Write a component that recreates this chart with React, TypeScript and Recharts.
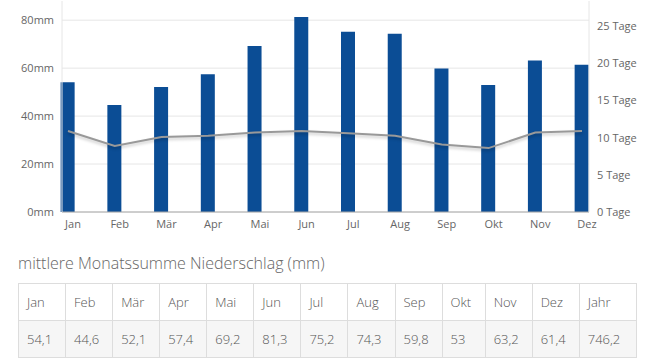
import React from 'react';
import { ComposedChart, Bar, Line, XAxis, YAxis, CartesianGrid } from 'recharts';

const months = ['Jan', 'Feb', 'Mär', 'Apr', 'Mai', 'Jun', 'Jul', 'Aug', 'Sep', 'Okt', 'Nov', 'Dez'];
const precipitation = [54.1, 44.6, 52.1, 57.4, 69.2, 81.3, 75.2, 74.3, 59.8, 53, 63.2, 61.4];
const rainDays = [10.9, 8.9, 10.1, 10.25, 10.7, 10.9, 10.6, 10.25, 9.1, 8.6, 10.7, 10.9];
const annualLabel = 'Jahr';
const annualValue = 746.2;
const mmTicks = [0, 20, 40, 60, 80];
const dayTicks = [0, 5, 10, 15, 20, 25];

const data = months.map((m, i) => ({ idx: i, month: m, mm: precipitation[i], days: rainDays[i] }));
const fmt = (v: number) => String(v).replace('.', ',');

const FONT = '"Open Sans", sans-serif';
const colWidths = [47, 47, 47, 47, 47, 47, 47, 47, 47, 43, 47, 47, 57];

const cell: React.CSSProperties = {
  border: '1px solid #ddd', padding: '0 0 0 8px', height: 36, fontSize: 13, color: '#555', textAlign: 'left', fontWeight: 300,
};

export default function App() {
  return (
    <div style={{ position: 'absolute', left: 0, top: 0, width: 647, height: 364, background: '#fff', fontFamily: FONT }}>
      <style>{'.rain-line path { filter: drop-shadow(0px 2px 1.5px rgba(0,0,0,0.22)); }'}</style>
      <ComposedChart width={647} height={240} data={data} margin={{ top: 1, right: 0, bottom: 0, left: 0 }}>
        <CartesianGrid yAxisId="left" vertical={false} stroke="#e6e6e6" syncWithTicks />
        <XAxis dataKey="idx" type="number" domain={[0, 11]} ticks={data.map(d => d.idx)} interval={0}
          tickFormatter={(i: number) => months[i]} padding={{ left: 6, right: 7 }} height={28}
          stroke="#a8a8a8" tickLine={false} tick={{ fill: '#666', fontSize: 11, fontFamily: FONT, dx: 5 }} />
        <YAxis yAxisId="left" orientation="left" width={62} domain={[0, 88]} ticks={mmTicks}
          tickFormatter={(v: number) => `${v}mm`} stroke="#e6e6e6" tickLine={false}
          tick={{ fill: '#666', fontSize: 11, fontFamily: FONT }} />
        <YAxis yAxisId="right" orientation="right" width={58} domain={[0, 28.4]} ticks={dayTicks}
          tickFormatter={(v: number) => `${v} Tage`} stroke="#e6e6e6" tickLine={false}
          tick={{ fill: '#666', fontSize: 11, fontFamily: FONT }} />
        <Line yAxisId="right" dataKey="days" className="rain-line" stroke="#999" strokeWidth={2} dot={false}
          activeDot={false} isAnimationActive={false} type="linear" />
        <Bar yAxisId="left" dataKey="mm" fill="#0b4d95" barSize={14} isAnimationActive={false} />
      </ComposedChart>
      <div style={{ position: 'absolute', left: 18, top: 253, fontSize: 16, lineHeight: '20px', color: '#666', fontWeight: 300 }}>
        mittlere Monatssumme Niederschlag (mm)
      </div>
      <table style={{ position: 'absolute', left: 18, top: 283, borderCollapse: 'collapse', tableLayout: 'fixed', width: 619, fontFamily: FONT }}>
        <colgroup>
          {colWidths.map((w, i) => <col key={i} style={{ width: w }} />)}
        </colgroup>
        <tbody>
          <tr style={{ background: '#fff' }}>
            {months.map(m => <th key={m} style={cell}>{m}</th>)}
            <th style={cell}>{annualLabel}</th>
          </tr>
          <tr style={{ background: '#f6f6f6' }}>
            {precipitation.map((v, i) => <td key={i} style={cell}>{fmt(v)}</td>)}
            <td style={cell}>{fmt(annualValue)}</td>
          </tr>
        </tbody>
      </table>
    </div>
  );
}
